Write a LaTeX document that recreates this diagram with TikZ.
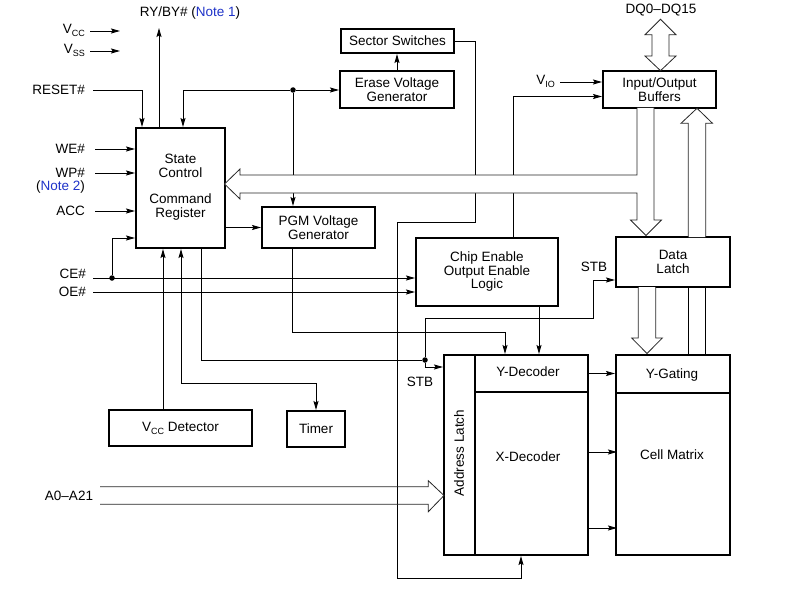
\documentclass[tikz,border=0pt]{standalone}
\usepackage{fontspec}
\setmainfont{Liberation Sans}
\usetikzlibrary{arrows.meta,calc}
\definecolor{noteblue}{RGB}{30,50,200}
\newcommand{\mysub}[1]{\raisebox{-0.4ex}{\fontsize{9}{9}\selectfont #1}}
\begin{document}
\begin{tikzpicture}[x=1pt,y=-1pt,
  font=\fontsize{13.5}{13.5}\selectfont,
  box/.style={draw,line width=2pt,inner sep=0pt,align=center},
  wire/.style={line width=0.9pt},
  arr/.style={wire,-{Stealth[length=9pt,width=5pt,inset=1.5pt]}},
  biarr/.style={wire,{Stealth[length=9pt,width=5pt,inset=1.5pt]}-{Stealth[length=9pt,width=5pt,inset=1.5pt]}},
  hollow/.style={line width=0.8pt,draw=black!85,fill=white,line join=miter},
  dot/.style={circle,fill,inner sep=0pt,minimum size=5.5pt},
  lbl/.style={inner sep=0pt}
]
\useasboundingbox (0,0) rectangle (792,591);

% ---------- boxes ----------
\node[box,minimum width=89pt,minimum height=120pt] (state) at (180.5,188) {};
\node[lbl,align=center] (statetxt1) at (180.5,166) {State\\Control};
\node[lbl,align=center] (statetxt2) at (180.5,207) {Command\\Register};
\node[box,minimum width=113pt,minimum height=24pt] (sector) at (397.5,41) {Sector Switches};
\node[box,minimum width=114pt,minimum height=37pt] (erase) at (397,89.5) {Erase Voltage\\Generator};
\node[box,minimum width=113pt,minimum height=41pt] (pgm) at (318.5,227.5) {PGM Voltage\\Generator};
\node[box,minimum width=142pt,minimum height=68pt] (chip) at (487,272) {Chip Enable\\Output Enable\\Logic};
\node[box,minimum width=113pt,minimum height=37pt] (io) at (659.5,89.5) {Input/Output\\Buffers};
\node[box,minimum width=114pt,minimum height=50pt] (data) at (673,262) {Data\\Latch};
\node[box,minimum width=143pt,minimum height=36pt] (vccdet) at (180.5,428) {V\mysub{CC} Detector};
\node[box,minimum width=58pt,minimum height=36pt] (timer) at (316,429) {Timer};
\node[box,minimum width=31pt,minimum height=200pt] (alatch) at (459.5,455) {};
\node[lbl,rotate=90] (alatchtxt) at (459,453) {Address Latch};
\node[box,minimum width=113pt,minimum height=37pt] (ydec) at (531.5,373.5) {};
\node[lbl] (ydectxt) at (528,372) {Y-Decoder};
\node[box,minimum width=113pt,minimum height=163pt] (xdec) at (531.5,473.5) {};
\node[lbl] (xdectxt) at (528,457) {X-Decoder};
\node[box,minimum width=114pt,minimum height=38pt] (ygate) at (673,374) {};
\node[lbl] (ygatetxt) at (672,375) {Y-Gating};
\node[box,minimum width=114pt,minimum height=162pt] (cell) at (673,474) {};
\node[lbl] (celltxt) at (672,455) {Cell Matrix};

% ---------- labels ----------
\node[lbl,anchor=base east] (vcc) at (85,33.3) {V\mysub{CC}};
\node[lbl,anchor=base east] (vss) at (85,53.3) {V\mysub{SS}};
\node[lbl,anchor=east] (reset) at (85,90) {RESET\#};
\node[lbl,anchor=east] (we) at (85,149) {WE\#};
\node[lbl,anchor=east] (wp) at (85,173) {WP\#};
\node[lbl,anchor=east] (note2) at (85,187) {(\textcolor{noteblue}{Note 2})};
\node[lbl,anchor=east] (acc) at (85,211) {ACC};
\node[lbl,anchor=east] (ce) at (86,274) {CE\#};
\node[lbl,anchor=east] (oe) at (86,292) {OE\#};
\node[lbl] (ryby) at (190,13) {RY/BY\# (\textcolor{noteblue}{Note 1})};
\node[lbl] (dq) at (661,10) {DQ0\textendash DQ15};
\node[lbl,anchor=base east] (vio) at (555,85) {V\mysub{IO}};
\node[lbl] (stb1) at (594,267) {STB};
\node[lbl] (stb2) at (420,382) {STB};
\node[lbl] (a0) at (69,496) {A0\textendash A21};

% ---------- free-end coordinates ----------
\coordinate (vccs) at (90,31);   \coordinate (vcce) at (120,31);
\coordinate (vsss) at (90,51);   \coordinate (vsse) at (120,51);
\coordinate (rybyend) at (159,28);
\coordinate (ces) at (93,278);
\coordinate (vios) at (560,82);
\coordinate (sb1) at (475,222);
\coordinate (sb2) at (397,578);
\coordinate (stbbend) at (593,318);

% ---------- connectors ----------
\draw[arr] (vccs) -- (vcce);
\draw[arr] (vsss) -- (vsse);
\draw[arr] (state.north -| rybyend) -- (rybyend);
\draw[arr] ([xshift=8pt]reset.east) -| ($(state.north west)+(7,0)$);
\draw[arr] ([xshift=10pt]we.east) -- (we.east -| state.west);
\draw[arr] ([xshift=10pt]wp.east) -- (wp.east -| state.west);
\draw[arr] ([xshift=10pt]acc.east) -- (acc.east -| state.west);

\node[dot] (j1) at (293,90) {};
\draw[arr] (j1) -| ($(state.north west)+(48,0)$);
\draw[arr] (j1) -- (erase.west |- j1);
\draw[arr] (j1) -- (j1 |- pgm.north);
\draw[arr] (erase.north) -- (erase.north |- sector.south);
\draw[arr] (pgm.west -| state.east) -- (pgm.west);

\node[dot] (j2) at (112,278) {};
\draw[arr] (ces) -- (ces -| chip.west);
\draw[arr] (j2) |- ($(state.south west)+(0,-11)$);
\draw[arr] ([xshift=7pt]oe.east) -- (oe.east -| chip.west);

\draw[arr] (vios) -- (vios -| io.west);
\draw[arr] ($(chip.north west)+(98,0)$) |- ($(io.west)+(0,7)$);

\draw[arr] (sector.east) -| (sb1) -| (sb2) -| ($(xdec.south west)+(47,0)$);

\node[dot] (j3) at (425,360) {};
\draw[wire] ($(state.south west)+(66,0)$) |- (j3);
\draw[arr] (j3) |- (stbbend) |- ($(data.west)+(0,18)$);
\draw[arr] (j3) |- ($(alatch.north west)+(0,13)$);

\draw[arr] ($(pgm.south west)+(31,0)$) |- ($(ydec.north west)+(31,-22)$) -- ($(ydec.north west)+(31,0)$);
\draw[arr] ($(chip.south west)+(124,0)$) -- ($(ydec.north west)+(65,0)$);

\draw[arr] ($(vccdet.north west)+(55,0)$) -- ($(state.south west)+(28,0)$);
\draw[biarr] ($(state.south west)+(46,0)$) |- ($(timer.north)+(0,-27)$) -- (timer.north);

\draw[arr] (ydec.east) -- (ydec.east -| ygate.west);
\draw[arr] ($(xdec.north east)+(0,61)$) -- ($(xdec.north east)+(28,61)$);
\draw[arr] ($(xdec.north east)+(0,137)$) -- ($(xdec.north east)+(28,137)$);

% ---------- hollow buses ----------
\draw[hollow] (637,108) -- (637,175) -- (240,175) -- (240,169) -- (224.5,184) -- (240,199) -- (240,193) -- (637,193) -- (637,220) -- (630.5,220) -- (646,235.5) -- (661.5,220) -- (654,220) -- (654,108);
\draw[hollow] (660.5,19.3) -- (676,34.7) -- (669,34.7) -- (669,56) -- (676,56) -- (660.5,70.7) -- (645,56) -- (652,56) -- (652,34.7) -- (645,34.7) -- cycle;
\draw[hollow] (688.3,237) -- (688.3,123.3) -- (681,123.3) -- (697,108.3) -- (712.5,123.3) -- (705.7,123.3) -- (705.7,237);
\draw[wire] (688.3,287) -- (688.3,355);
\draw[wire] (705.7,287) -- (705.7,355);
\draw[hollow] (638.3,287) -- (638.3,338) -- (631.7,338) -- (647,353.5) -- (662.3,338) -- (655.7,338) -- (655.7,287);
\draw[hollow,fill=none] (100,486.7) -- (428.3,486.7) -- (428.3,480.7) -- (444,495.5) -- (428.3,511.7) -- (428.3,504.3) -- (100,504.3);
\end{tikzpicture}
\end{document}
